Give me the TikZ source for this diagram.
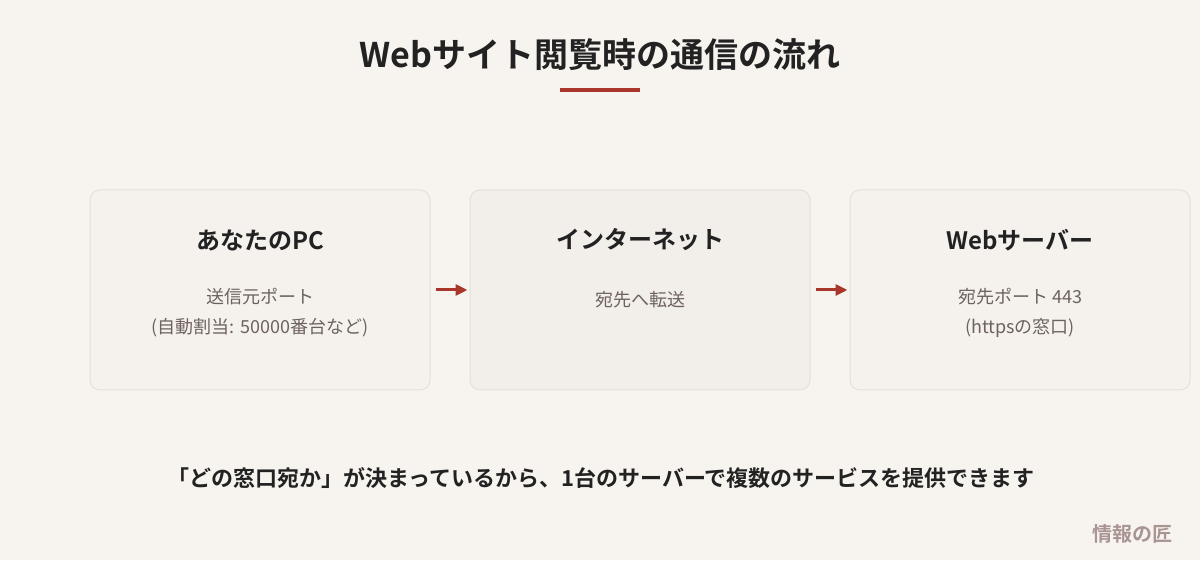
\documentclass[tikz,border=0pt]{standalone}
\usepackage{fontspec}
\setmainfont{Noto Sans CJK JP}[BoldFont={Noto Sans CJK JP Bold}]
\usetikzlibrary{arrows.meta}
\definecolor{bgcol}{HTML}{F7F4EF}
\definecolor{boxcol}{HTML}{F5F2EE}
\definecolor{midcol}{HTML}{F2EEE9}
\definecolor{edgecol}{HTML}{E4DFD7}
\definecolor{accent}{HTML}{A8362B}
\definecolor{inkcol}{HTML}{222222}
\definecolor{subcol}{HTML}{6E625E}
\definecolor{markcol}{HTML}{A89592}
\tikzset{card/.style={draw=edgecol, line width=1pt, fill=boxcol, rounded corners=10pt, minimum width=340pt, minimum height=200pt},
  cardtitle/.style={font=\bfseries\fontsize{24}{28}\selectfont, text=inkcol},
  cardtext/.style={font=\fontsize{18}{30}\selectfont, text=subcol, align=center},
  flow/.style={accent, line width=3pt, -{Triangle[length=12pt,width=11pt]}, shorten <=5pt, shorten >=2pt}}

\begin{document}
\begin{tikzpicture}[x=1pt,y=1pt]
    %Background
    \fill[bgcol] (0,0) rectangle (1200,560);
    \useasboundingbox (0,0) rectangle (1200,560);
    \node[font=\bfseries\fontsize{34}{40}\selectfont, text=inkcol] (title) at (600,505) {Webサイト閲覧時の通信の流れ};
    \draw[accent, line width=4pt] (560,470) -- (640,470);
    %Cards
    \node[card] (pc) at (260,270) {};
    \node[card, fill=midcol] (net) at (640,270) {};
    \node[card] (srv) at (1020,270) {};
    \node[cardtitle] (pct) at (260,320) {あなたのPC};
    \node[cardtitle] (nett) at (640,320) {インターネット};
    \node[cardtitle] (srvt) at (1020,320) {Webサーバー};
    \node[cardtext] (pcs) at (260,247) {送信元ポート\\(自動割当: 50000番台など)};
    \node[cardtext] (nets) at (640,260) {宛先へ転送};
    \node[cardtext] (srvs) at (1020,247) {宛先ポート 443\\(httpsの窓口)};
    %Flow
    \draw[flow] (pc) -- (net);
    \draw[flow] (net) -- (srv);
    \node[font=\bfseries\fontsize{22}{26}\selectfont, text=inkcol] (note) at (601,82) {「どの窓口宛か」が決まっているから、1台のサーバーで複数のサービスを提供できます};
    \node[font=\bfseries\fontsize{20}{24}\selectfont, text=markcol, anchor=east] (mark) at (1176,26) {情報の匠};
\end{tikzpicture}
\end{document}
